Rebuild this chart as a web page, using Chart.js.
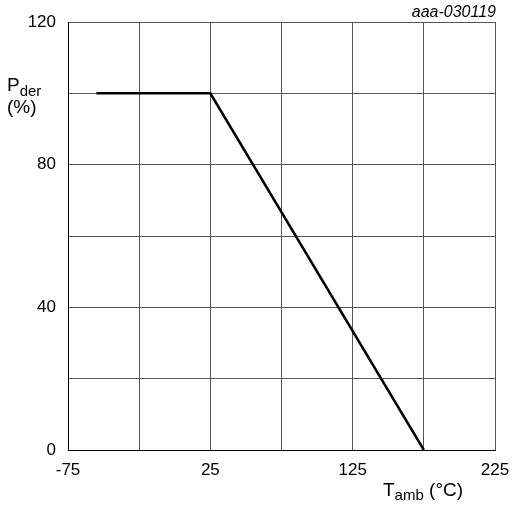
<!DOCTYPE html>
<html lang="en">
<head>
    <meta charset="UTF-8">
    <title>Pder vs Tamb</title>
    <script src="https://cdn.jsdelivr.net/npm/chart.js"></script>
    <style>
        html, body { margin: 0; padding: 0; background: #ffffff; }
        #wrap { width: 514px; height: 506px; }
    </style>
</head>
<body>
    <div id="wrap"><canvas id="derating" width="514" height="506"></canvas></div>

    <script>
        // data
        const tempAmb = [-55, 25, 175];
        const powerDer = [100, 100, 0];
        const xLabels = [-75, 25, 125, 225];
        const yLabels = [0, 40, 80, 120];

        const FONT = '"Liberation Sans", Arial, sans-serif';

        // axis titles with subscripts + figure code
        const textPlugin = {
            id: 'labels',
            afterDraw(chart) {
                const c = chart.ctx;
                c.save();
                c.fillStyle = '#000';
                c.textBaseline = 'alphabetic';
                c.textAlign = 'left';

                c.font = '19px ' + FONT;
                c.fillText('P', 7, 91);
                let w = c.measureText('P').width;
                c.font = '15px ' + FONT;
                c.fillText('der', 7 + w, 96);
                c.font = '19px ' + FONT;
                c.fillText('(%)', 7, 113);

                c.font = '19px ' + FONT;
                c.fillText('T', 383, 496);
                w = c.measureText('T').width;
                c.font = '15px ' + FONT;
                c.fillText('amb', 383 + w, 500);
                const w2 = c.measureText('amb').width;
                c.font = '19px ' + FONT;
                c.fillText(' (°C)', 383 + w + w2, 496);

                c.font = 'italic 16px ' + FONT;
                c.textAlign = 'right';
                c.fillText('aaa-030119', 496, 17);
                c.restore();
            }
        };

        new Chart(document.getElementById('derating'), {
            type: 'scatter',
            data: {
                datasets: [{
                    data: tempAmb.map((t, i) => ({ x: t, y: powerDer[i] })),
                    showLine: true,
                    borderColor: '#000',
                    borderWidth: 2.5,
                    pointRadius: 0,
                    tension: 0
                }]
            },
            options: {
                responsive: false,
                animation: false,
                layout: { padding: { top: 22, right: 19, left: 0, bottom: 0 } },
                plugins: {
                    legend: { display: false },
                    tooltip: { enabled: false }
                },
                scales: {
                    x: {
                        type: 'linear',
                        min: -75,
                        max: 225,
                        afterFit(s) {
                            s.height = 56;
                            s.paddingLeft = 0;
                            s.paddingRight = 0;
                        },
                        grid: { color: '#555', drawTicks: false },
                        border: { color: '#000' },
                        ticks: {
                            stepSize: 50,
                            padding: 10,
                            color: '#000',
                            font: { family: FONT, size: 17 },
                            maxRotation: 0,
                            callback: v => xLabels.includes(v) ? String(v) : ''
                        }
                    },
                    y: {
                        min: 0,
                        max: 120,
                        afterFit(s) {
                            s.width = 68;
                            s.paddingTop = 0;
                            s.paddingBottom = 0;
                        },
                        grid: { color: '#555', drawTicks: false },
                        border: { color: '#000' },
                        ticks: {
                            stepSize: 20,
                            padding: 12,
                            color: '#000',
                            font: { family: FONT, size: 17 },
                            callback: v => yLabels.includes(v) ? String(v) : ''
                        }
                    }
                }
            },
            plugins: [textPlugin]
        });
    </script>
</body>
</html>
